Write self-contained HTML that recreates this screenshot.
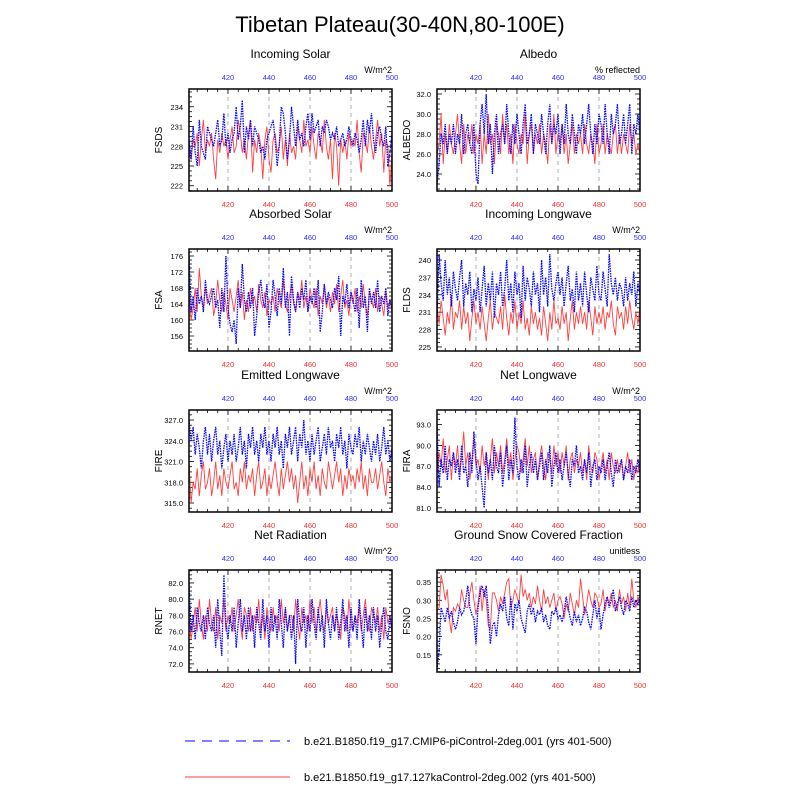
<!DOCTYPE html>
<html><head><meta charset="utf-8"><style>
body{margin:0;background:#fff;}
svg{display:block;font-family:"Liberation Sans",sans-serif;}
</style></head><body>
<svg id="chart" width="800" height="800" viewBox="0 0 800 800">
<text x="400" y="32" text-anchor="middle" font-size="22">Tibetan Plateau(30-40N,80-100E)</text>
<g id="panels"></g>
<g>
<line x1="185" y1="741" x2="290" y2="741" stroke="#0000ff" stroke-width="1" stroke-dasharray="10,7"/>
<text x="304" y="745" font-size="11">b.e21.B1850.f19_g17.CMIP6-piControl-2deg.001 (yrs 401-500)</text>
<line x1="185" y1="777" x2="290" y2="777" stroke="#ff4040" stroke-width="1"/>
<text x="304" y="781" font-size="11">b.e21.B1850.f19_g17.127kaControl-2deg.002 (yrs 401-500)</text>
</g>
</svg>
<script>
const years = [401, 500];
const xTicks = [420, 440, 460, 480, 500];
const fsdsBlue = [229,226,231,227,225,232,228,227,226,231,230,229,228,230,232,228,229,233,228,230,227,229,230,234,229,231,235,227,231,229,232,228,231,230,229,227,228,226,229,230,231,232,229,225,228,234,233,230,226,229,234,231,228,232,229,230,228,231,233,229,233,230,231,232,228,231,230,232,231,229,230,229,231,228,229,230,228,229,231,229,228,230,229,227,229,232,228,232,230,233,229,227,230,231,229,228,231,225,227,230];
const fsdsRed = [227,226,229,228,230,225,229,232,227,229,228,230,226,223,229,227,230,228,229,226,229,231,227,228,232,230,227,229,226,230,232,224,229,227,230,228,223,229,231,226,224,229,230,227,228,231,226,229,225,230,227,228,226,231,229,227,232,228,229,227,231,228,226,230,229,227,232,228,226,229,223,230,228,222,229,227,229,226,230,228,229,228,232,227,224,230,229,227,231,228,226,229,232,228,230,224,229,228,222,227];
const albedoBlue = [23,25,28,27,29,26,28,27,29,26,28,27,30,26,28,29,27,26,29,24,23,29,31,28,32,27,29,24,28,30,26,28,29,27,31,28,26,29,27,30,28,26,29,31,27,28,30,26,29,28,27,30,28,26,29,31,27,29,28,30,26,29,27,31,28,27,30,28,26,29,28,30,27,29,31,28,26,29,27,30,29,27,31,28,26,30,28,29,31,27,28,30,27,29,31,26,29,28,30,28];
const albedoRed = [26,27,30,25,28,26,29,27,26,28,30,27,25,29,26,28,27,29,26,28,27,29,25,28,26,30,27,28,25,29,28,26,30,27,29,26,28,25,29,27,26,28,27,30,25,28,29,26,28,27,29,26,28,27,25,29,27,30,26,28,27,29,26,28,25,27,29,26,28,27,28,26,29,27,26,28,27,25,29,26,27,29,26,28,27,26,28,29,26,28,26,28,27,26,29,27,28,26,27,26];
const fsaBlue = [176,162,166,160,168,164,166,162,170,165,164,166,168,163,165,158,168,162,176,163,159,157,160,154,168,163,174,165,162,167,163,168,156,161,167,170,165,163,169,158,162,170,166,161,168,164,173,163,167,156,171,165,162,167,163,168,165,170,162,166,164,168,163,170,157,162,169,164,167,165,163,168,165,171,156,166,164,169,163,167,165,162,168,158,170,163,166,157,168,164,167,163,170,162,166,164,168,161,165,163];
const fsaRed = [167,160,163,168,162,173,166,163,168,164,166,168,161,164,170,165,162,167,164,160,168,165,162,166,170,163,167,160,165,162,168,164,166,162,169,165,163,167,161,165,164,166,162,168,165,163,170,164,162,166,169,164,162,167,165,170,163,166,162,168,165,163,168,161,166,164,169,163,166,162,167,164,169,162,166,170,163,165,161,167,164,168,162,166,163,169,164,161,167,165,163,168,162,166,164,161,167,163,165,162];
const fldsBlue = [230,241,236,233,240,234,237,232,238,235,233,237,240,232,236,234,238,231,235,233,237,231,235,239,232,236,233,238,230,236,234,238,232,235,240,233,236,231,238,234,236,230,239,233,237,235,232,238,234,236,231,240,234,237,232,241,235,233,236,238,234,237,232,236,239,233,235,231,238,233,236,232,238,234,231,237,235,233,239,234,233,238,235,232,241,236,234,237,233,236,235,232,237,233,236,234,238,232,236,234];
const fldsRed = [232,229,233,230,227,231,229,234,228,231,230,233,228,232,229,231,226,230,233,229,231,228,232,229,226,230,233,228,231,230,229,232,228,234,230,227,231,229,233,228,231,229,233,228,230,227,232,229,231,228,230,227,232,229,226,231,228,233,229,230,228,232,229,231,226,230,233,228,231,229,232,229,231,228,233,230,227,232,229,231,229,232,228,231,230,233,229,227,232,230,231,228,232,229,233,230,228,231,229,232];
const fireBlue = [327,324,326,322,325,323,320,324,326,322,325,321,324,326,322,324,320,323,325,321,324,322,325,321,323,326,322,324,320,325,323,326,322,324,321,325,323,326,322,324,321,325,323,326,322,324,320,325,323,326,322,324,326,321,325,323,327,322,324,321,325,322,324,326,321,323,325,322,326,323,324,321,325,323,326,322,324,320,325,323,322,325,323,326,321,324,322,325,323,321,324,322,325,321,323,326,322,324,321,323];
const fireRed = [321,315,318,317,320,316,319,321,317,318,320,316,318,321,317,319,316,320,318,317,319,321,317,318,316,320,318,321,317,319,318,320,316,319,321,317,318,320,316,319,317,319,321,318,316,320,317,319,321,318,320,317,319,315,318,321,317,319,316,320,318,321,317,319,316,320,318,317,321,319,317,319,321,318,320,316,319,317,320,318,319,317,320,318,321,317,319,316,320,318,318,320,317,319,321,318,316,320,318,319];
const firaBlue = [93,84,88,86,90,85,88,87,89,86,88,85,90,86,87,84,89,86,92,88,85,87,84,81,89,86,88,85,90,87,86,89,84,87,90,85,88,86,94,87,85,88,86,90,84,87,89,86,88,85,87,89,85,88,86,90,84,87,89,86,88,85,87,89,86,84,88,87,90,86,87,85,88,86,89,84,87,88,85,87,86,88,85,87,89,86,84,88,86,87,88,85,87,86,88,85,87,86,88,86];
const firaRed = [86,89,87,91,86,88,90,85,89,87,90,86,88,92,87,89,85,88,91,87,88,86,90,87,89,85,88,91,86,89,87,90,86,88,91,87,89,85,88,90,89,86,88,91,87,90,86,88,89,85,88,90,87,85,89,88,86,90,87,89,86,89,87,90,85,88,89,86,88,87,89,86,88,85,90,87,86,89,88,85,87,89,86,88,85,89,87,86,88,86,88,85,87,89,86,88,85,87,86,88];
const rnetBlue = [82,76,78,75,79,77,76,78,75,79,77,76,78,74,80,76,73,83,77,75,78,76,79,74,77,80,76,78,75,79,76,78,74,79,77,75,80,76,78,74,79,76,78,75,80,77,74,79,76,78,75,78,72,80,77,76,79,74,78,76,80,77,75,79,76,78,74,80,77,75,78,76,79,75,77,80,76,78,74,79,76,78,75,80,77,74,79,76,78,75,79,76,78,74,77,79,76,75,78,76];
const rnetRed = [78,75,77,79,76,80,77,75,78,76,80,77,76,79,75,78,77,80,76,78,77,79,76,78,80,77,75,79,78,76,79,76,78,77,80,76,78,75,79,77,76,79,77,78,76,80,77,79,76,78,78,76,80,77,75,79,77,78,76,80,77,79,76,78,80,77,76,79,77,78,79,76,78,77,75,79,78,76,80,77,76,78,77,79,76,78,80,77,76,79,78,77,79,76,78,75,79,77,78,76];
const fsnoBlue = [.11,.16,.28,.26,.24,.28,.25,.27,.24,.22,.24,.28,.26,.27,.30,.34,.28,.26,.25,.18,.28,.32,.34,.31,.34,.27,.18,.23,.24,.20,.26,.29,.27,.31,.25,.23,.31,.22,.29,.27,.30,.25,.23,.21,.27,.29,.26,.28,.24,.27,.26,.28,.24,.26,.23,.22,.27,.26,.28,.25,.26,.24,.27,.31,.28,.25,.23,.27,.24,.26,.23,.25,.28,.27,.24,.22,.26,.30,.25,.28,.22,.26,.29,.31,.28,.30,.33,.27,.29,.31,.28,.26,.30,.29,.27,.31,.28,.30,.29,.31];
const fsnoRed = [.27,.28,.37,.34,.30,.33,.25,.21,.28,.27,.29,.28,.33,.30,.28,.28,.32,.35,.30,.26,.29,.34,.27,.33,.30,.23,.22,.32,.32,.30,.27,.31,.29,.32,.35,.36,.28,.30,.33,.31,.29,.37,.31,.33,.30,.32,.28,.31,.29,.34,.30,.27,.33,.29,.31,.28,.30,.32,.27,.30,.31,.29,.25,.29,.27,.32,.29,.26,.30,.28,.36,.31,.26,.29,.33,.30,.28,.32,.31,.28,.29,.33,.27,.31,.29,.32,.28,.30,.27,.33,.29,.31,.27,.32,.28,.36,.30,.28,.31,.29];

const fsdsTicks=[222,225,228,231,234], albedoTicks=[24,26,28,30,32], fsaTicks=[156,160,164,168,172,176],
fldsTicks=[225,228,231,234,237,240], fireTicks=[315,318,321,324,327], firaTicks=[81,84,87,90,93],
rnetTicks=[72,74,76,78,80,82], fsnoTicks=[0.15,0.20,0.25,0.30,0.35];

const panels=[
 {id:'fsds',title:'Incoming Solar',units:'W/m^2',yl:'FSDS',col:0,row:0,lo:221.2,hi:236.7,ticks:fsdsTicks,dec:0,blue:fsdsBlue,red:fsdsRed},
 {id:'albedo',title:'Albedo',units:'% reflected',yl:'ALBEDO',col:1,row:0,lo:22.3,hi:32.5,ticks:albedoTicks,dec:1,blue:albedoBlue,red:albedoRed},
 {id:'fsa',title:'Absorbed Solar',units:'W/m^2',yl:'FSA',col:0,row:1,lo:152.25,hi:177.75,ticks:fsaTicks,dec:0,blue:fsaBlue,red:fsaRed},
 {id:'flds',title:'Incoming Longwave',units:'W/m^2',yl:'FLDS',col:1,row:1,lo:224.3,hi:241.9,ticks:fldsTicks,dec:0,blue:fldsBlue,red:fldsRed},
 {id:'fire',title:'Emitted Longwave',units:'W/m^2',yl:'FIRE',col:0,row:2,lo:313.7,hi:328.45,ticks:fireTicks,dec:1,blue:fireBlue,red:fireRed},
 {id:'fira',title:'Net Longwave',units:'W/m^2',yl:'FIRA',col:1,row:2,lo:80.4,hi:95.1,ticks:firaTicks,dec:1,blue:firaBlue,red:firaRed},
 {id:'rnet',title:'Net Radiation',units:'W/m^2',yl:'RNET',col:0,row:3,lo:71.0,hi:83.6,ticks:rnetTicks,dec:1,blue:rnetBlue,red:rnetRed},
 {id:'fsno',title:'Ground Snow Covered Fraction',units:'unitless',yl:'FSNO',col:1,row:3,lo:0.1028,hi:0.3833,ticks:fsnoTicks,dec:2,blue:fsnoBlue,red:fsnoRed}
];
const NS='http://www.w3.org/2000/svg';
const root=document.getElementById('panels');
function mk(tag,attrs,parent,txt){const e=document.createElementNS(NS,tag);for(const k in attrs)e.setAttribute(k,attrs[k]);if(txt!==undefined)e.textContent=txt;parent.appendChild(e);return e;}
const colX=[189,437], rowY=[89,249,410,570], W=203, H=102;
panels.forEach(p=>{
 const x0=colX[p.col], y0=rowY[p.row], x1=x0+W, y1=y0+H;
 const g=mk('g',{},root);
 
 
 const sx=v=>x0+(v-years[0])/(years[1]-years[0])*W;
 const sy=v=>y1-(v-p.lo)/(p.hi-p.lo)*H;
 const t=mk('text',{x:(x0+x1)/2,y:y0-31,'text-anchor':'middle','font-size':12},g,p.title);
 
 
 const u=mk('text',{x:x1,y:y0-16,'text-anchor':'end','font-size':9},g,p.units);
 
 
 xTicks.forEach(v=>{
  if(v<years[1]){const gl=mk('line',{x1:sx(v),x2:sx(v),y1:y0,y2:y1,stroke:'#999','stroke-width':0.8,'stroke-dasharray':'4,4'},g);
  
  }
  const tl=mk('text',{x:sx(v),y:y0-9,'text-anchor':'middle','font-size':7.5,fill:'#3030ff'},g,v);
  
  
  const bl=mk('text',{x:sx(v),y:y1+16,'text-anchor':'middle','font-size':7.5,fill:'#ff3030'},g,v);
  
  
 });
 for(let v=405;v<=500;v+=5){const L=(v%20===0)?5:3;
  mk('line',{x1:sx(v),x2:sx(v),y1:y1,y2:y1-L,stroke:'#000','stroke-width':0.8},g);
  mk('line',{x1:sx(v),x2:sx(v),y1:y0,y2:y0+L,stroke:'#000','stroke-width':0.8},g);
 }
 const step=p.ticks[1]-p.ticks[0];
 for(let v=p.ticks[0]-step;v<=p.hi;v+=step/4){if(v<p.lo)continue;const major=p.ticks.some(tv=>Math.abs(tv-v)<1e-6);
  const L=major?5:3;
  mk('line',{x1:x0,x2:x0+L,y1:sy(v),y2:sy(v),stroke:'#000','stroke-width':0.8},g);
  mk('line',{x1:x1,x2:x1-L,y1:sy(v),y2:sy(v),stroke:'#000','stroke-width':0.8},g);
 }
 p.ticks.forEach(v=>{const yl=mk('text',{x:x0-6,y:sy(v)+3,'text-anchor':'end','font-size':7.5},g,v.toFixed(p.dec));
  
  });
 const yt=mk('text',{x:x0-27,y:(y0+y1)/2,'text-anchor':'middle','font-size':10,transform:`rotate(-90 ${x0-27} ${(y0+y1)/2})`},g,p.yl);
 
 
 const ptsR=p.red.map((v,i)=>sx(years[0]+i).toFixed(1)+','+sy(v).toFixed(1)).join(' ');
 const ptsB=p.blue.map((v,i)=>sx(years[0]+i).toFixed(1)+','+sy(v).toFixed(1)).join(' ');
 const cp=mk('clipPath',{id:'cp-'+p.id},g);mk('rect',{x:x0,y:y0,width:W,height:H},cp);
 const lr=mk('polyline',{points:ptsR,fill:'none',stroke:'#ff4040','stroke-width':0.9,'clip-path':`url(#cp-${p.id})`},g);
 
 
 const lb=mk('polyline',{points:ptsB,fill:'none',stroke:'#0000ff','stroke-width':1.3,'stroke-dasharray':'1.5,1','clip-path':`url(#cp-${p.id})`},g);
 
 
 const fr=mk('rect',{x:x0,y:y0,width:W,height:H,fill:'none',stroke:'#000','stroke-width':1.5},g);
 
 
});
</script>
</body></html>
